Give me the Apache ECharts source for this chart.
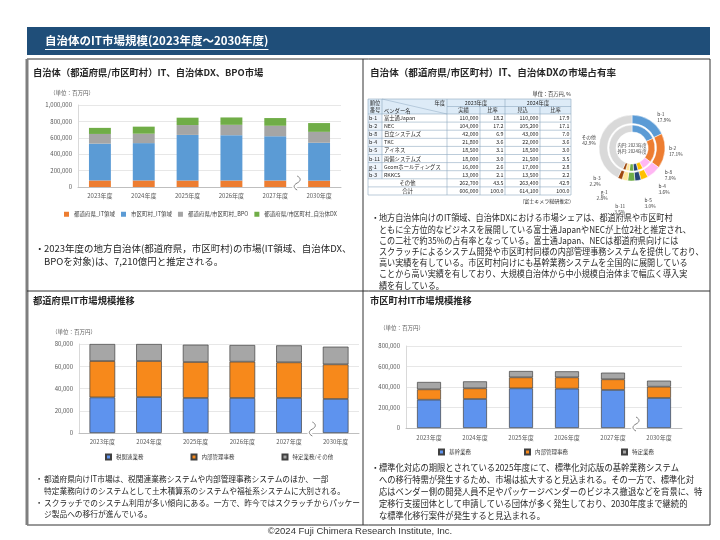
<!DOCTYPE html>
<html>
<head>
<meta charset="utf-8">
<script src="https://cdn.jsdelivr.net/npm/echarts@6/dist/echarts.min.js"></script>
<style>
html, body { margin: 0; padding: 0; background: #fff; }
#main { width: 720px; height: 540px; }
</style>
</head>
<body>
<div id="main"></div>
<script>
var years = ['2023年度', '2024年度', '2025年度', '2026年度', '2027年度', '2030年度'];

// 自治体（都道府県/市区町村）IT、自治体DX、BPO市場（百万円）
var prefIT = [80000, 80000, 79400, 79100, 78800, 77600];
var muniIT = [449000, 455000, 556000, 553000, 540000, 462000];
var bpo = [118000, 115000, 120000, 126000, 128000, 133000];
var dx = [74000, 86000, 90000, 90000, 94000, 107000];

// 都道府県IT市場
var prefTax = [32000, 32300, 31500, 31500, 31500, 30600];
var prefInternal = [32700, 32400, 32300, 32600, 32000, 31100];
var prefOther = [15300, 15300, 15600, 15000, 15300, 15900];

// 市区町村IT市場
var muniCore = [276000, 283000, 387000, 384000, 371000, 293000];
var muniInternal = [101000, 104000, 107000, 110000, 104000, 110000];
var muniSpecific = [72000, 68000, 62000, 59000, 65000, 59000];

// ベンダーシェア
var vendorCodes = ['b-1', 'b-2', 'b-8', 'b-4', 'b-5', 'b-11', 'g-1', 'b-3'];
var vendorNames = ['富士通Japan', 'NEC', '日立システムズ', 'TKC', 'アイネス', '両備システムズ', 'Gcomホールディングス', 'RKKCS'];
var sales2023 = [110000, 104000, 42000, 21800, 18500, 18000, 16000, 13000];
var share2023 = [18.2, 17.2, 6.9, 3.6, 3.1, 3.0, 2.6, 2.1];
var sales2024 = [110000, 105200, 43000, 22000, 18500, 21500, 17000, 13500];
var share2024 = [17.9, 17.1, 7.0, 3.6, 3.0, 3.5, 2.8, 2.2];
var otherSales = [262700, 263400];
var otherShare = [43.5, 42.9];
var totalSales = [606000, 614100];

var FONT = '"Noto Sans CJK JP", "Noto Sans", sans-serif';
var pieColors = ['#5B9BD5', '#ED7D31', '#FFB7F3', '#FFC000', '#264478', '#70AD47', '#FFE699', '#9E480E', '#D9D9D9'];
var pieCX = 632, pieCY = 148;

var g = [];
function txt(x, y, s, size, opt) {
    opt = opt || {};
    g.push({
        type: 'text', x: x, y: y, silent: true, z: 10,
        scaleX: opt.sx || 1, scaleY: 1,
        style: {
            text: s, fill: opt.fill || '#262626', fontSize: size, fontFamily: FONT,
            fontWeight: opt.weight || 'normal', textAlign: opt.align || 'left',
            textVerticalAlign: opt.valign || 'middle', lineHeight: opt.lh
        }
    });
}
function line(x1, y1, x2, y2, color, w) {
    g.push({ type: 'line', silent: true, z: 5, shape: { x1: x1, y1: y1, x2: x2, y2: y2 }, style: { stroke: color, lineWidth: w } });
}
function rect(x, y, w, h, fill) {
    g.push({ type: 'rect', silent: true, z: 1, shape: { x: x, y: y, width: w, height: h }, style: { fill: fill } });
}
function measure(s, font) {
    var c = document.createElement('canvas').getContext('2d');
    c.font = font;
    return c.measureText(s).width;
}
function fmt(v) { return v.toLocaleString('en-US'); }

// title bar
rect(27, 27, 683, 28, '#1F4E79');
var title = '自治体のIT市場規模(2023年度～2030年度)';
txt(45, 41, title, 11.5, { fill: '#fff', weight: 'bold' });
line(45, 49.5, 45 + measure(title, 'bold 11.5px ' + FONT), 49.5, '#fff', 1);

// frame
g.push({ type: 'rect', silent: true, z: 5, shape: { x: 27, y: 59, width: 683, height: 466 }, style: { fill: 'none', stroke: '#333', lineWidth: 1 } });
line(27, 59, 27, 525, '#7F7F7F', 3);
line(363, 59, 363, 525, '#333', 1);
line(27, 291, 710, 291, '#333', 1);

// panel headers
txt(33, 72, '自治体（都道府県/市区町村）IT、自治体DX、BPO市場', 9.3, { weight: 'bold' });
txt(370, 72, '自治体（都道府県/市区町村）IT、自治体DXの市場占有率', 9.6, { weight: 'bold' });
txt(33, 300, '都道府県IT市場規模推移', 9.3, { weight: 'bold' });
txt(370, 300, '市区町村IT市場規模推移', 9.3, { weight: 'bold' });

// units
txt(50, 93, '（単位：百万円）', 5.5, { fill: '#595959' });
txt(52, 332, '（単位：百万円）', 5.5, { fill: '#595959' });
txt(380, 328, '（単位：百万円）', 5.5, { fill: '#595959' });

// paragraphs
txt(35, 248, '・', 9.5);
txt(44, 241.5, '2023年度の地方自治体(都道府県，市区町村)の市場(IT領域、自治体DX、\nBPOを対象)は、7,210億円と推定される。', 9.5, { valign: 'top', lh: 13 });

txt(371, 218, '・', 8.7);
txt(379, 212.4, [
    '地方自治体向けのIT領域、自治体DXにおける市場シェアは、都道府県や市区町村',
    'ともに全方位的なビジネスを展開している富士通JapanやNECが上位2社と推定され、',
    'この二社で約35%の占有率となっている。富士通Japan、NECは都道府県向けには',
    'スクラッチによるシステム開発や市区町村同様の内部管理事務システムを提供しており、',
    '高い実績を有している。市区町村向けにも基幹業務システムを全国的に展開している',
    'ことから高い実績を有しており、大規模自治体から中小規模自治体まで幅広く導入実',
    '績を有している。'
].join('\n'), 8.7, { valign: 'top', lh: 11.2, sx: 0.935 });

txt(35, 479, '・', 8.3);
txt(44, 473, '都道府県向けIT市場は、税関連業務システムや内部管理事務システムのほか、一部\n特定業務向けのシステムとして土木積算系のシステムや福祉系システムに大別される。', 8.3, { valign: 'top', lh: 11.8, sx: 0.93 });
txt(35, 502.6, '・', 8.3);
txt(44, 496.6, 'スクラッチでのシステム利用が多い傾向にある。一方で、昨今ではスクラッチからパッケー\nジ製品への移行が進んでいる。', 8.3, { valign: 'top', lh: 11.8, sx: 0.93 });

txt(371, 468, '・', 8.7);
txt(379, 462, [
    '標準化対応の期限とされている2025年度にて、標準化対応版の基幹業務システム',
    'への移行特需が発生するため、市場は拡大すると見込まれる。その一方で、標準化対',
    '応はベンダー側の開発人員不足やパッケージベンダーのビジネス撤退などを背景に、特',
    '定移行支援団体として申請している団体が多く発生しており、2030年度まで継続的',
    'な標準化移行案件が発生すると見込まれる。'
].join('\n'), 8.7, { valign: 'top', lh: 12, sx: 0.955 });

// footer
g.push({ type: 'text', x: 360, y: 531, silent: true, style: { text: '©2024 Fuji Chimera Research Institute, Inc.', fill: '#333', fontSize: 9.5, fontFamily: '"Liberation Sans", sans-serif', textAlign: 'center', textVerticalAlign: 'middle' } });

// share table
var colX = [368, 382, 447, 480, 505, 540, 571];
var tTop = 99, hMid = 106.5, hBot = 114, rowH = 8.1;
var nRows = vendorNames.length + 2;
var tBot = hBot + rowH * nRows;
var bc = '#8EA9C1';
rect(colX[0], tTop, colX[6] - colX[0], hBot - tTop, '#DDEBF7');
rect(colX[0], hBot, colX[1] - colX[0], rowH * vendorNames.length, '#EEF4FB');
line(colX[0], tTop, colX[6], tTop, bc, 0.6);
line(colX[2], hMid, colX[6], hMid, bc, 0.6);
for (var r = 0; r <= nRows; r++) line(colX[0], hBot + rowH * r, colX[6], hBot + rowH * r, bc, 0.6);
[0, 2, 4, 6].forEach(function (i) { line(colX[i], tTop, colX[i], tBot, bc, 0.6); });
line(colX[1], tTop, colX[1], hBot + rowH * vendorNames.length, bc, 0.6);
[3, 5].forEach(function (i) { line(colX[i], hMid, colX[i], tBot, bc, 0.6); });
line(colX[1], tTop, colX[2], hBot, bc, 0.5);
var ts = 5.3;
txt(375, 102.8, '順位', ts, { align: 'center' });
txt(375, 110.3, '番号', ts, { align: 'center' });
txt(445, 102.5, '年度', ts, { align: 'right' });
txt(384, 110.5, 'ベンダー名', ts);
txt((colX[2] + colX[4]) / 2, 102.8, '2023年度', ts, { align: 'center' });
txt((colX[4] + colX[6]) / 2, 102.8, '2024年度', ts, { align: 'center' });
txt((colX[2] + colX[3]) / 2, 110.3, '実績', ts, { align: 'center' });
txt((colX[3] + colX[4]) / 2, 110.3, '比率', ts, { align: 'center' });
txt((colX[4] + colX[5]) / 2, 110.3, '見込', ts, { align: 'center' });
txt((colX[5] + colX[6]) / 2, 110.3, '比率', ts, { align: 'center' });
function numRow(r, a, b, c, d) {
    var y = hBot + rowH * (r + 0.5);
    txt(colX[3] - 1.5, y, fmt(a), ts, { align: 'right' });
    txt(colX[4] - 1.5, y, b.toFixed(1), ts, { align: 'right' });
    txt(colX[5] - 1.5, y, fmt(c), ts, { align: 'right' });
    txt(colX[6] - 1.5, y, d.toFixed(1), ts, { align: 'right' });
}
vendorNames.forEach(function (n, i) {
    var y = hBot + rowH * (i + 0.5);
    txt(369, y, vendorCodes[i], ts);
    txt(384, y, n, ts);
    numRow(i, sales2023[i], share2023[i], sales2024[i], share2024[i]);
});
var ro = vendorNames.length;
txt((colX[0] + colX[2]) / 2, hBot + rowH * (ro + 0.5), 'その他', ts, { align: 'center' });
numRow(ro, otherSales[0], otherShare[0], otherSales[1], otherShare[1]);
txt((colX[0] + colX[2]) / 2, hBot + rowH * (ro + 1.5), '合計', ts, { align: 'center' });
numRow(ro + 1, totalSales[0], 100, totalSales[1], 100);
txt(571, 94, '単位：百万円, %', 5.2, { align: 'right' });
txt(571, 201, '(富士キメラ総研推定)', 5, { align: 'right' });

// donut center note
txt(pieCX, pieCY, '内円: 2023年度\n外円: 2024年度', 4.3, { align: 'center', lh: 6, fill: '#404040' });

var pieNames = vendorCodes.concat(['その他']);
function pieData(shares, other) {
    return shares.concat([other]).map(function (v, i) {
        return { name: pieNames[i], value: v, itemStyle: { color: pieColors[i] } };
    });
}

var axisLabelStyle = { fontSize: 6, color: '#595959', fontFamily: FONT };
function catAxis(gi, margin) {
    return {
        type: 'category', gridIndex: gi, data: years,
        axisLine: { lineStyle: { color: '#BFBFBF' } }, axisTick: { show: false },
        axisLabel: Object.assign({ margin: margin }, axisLabelStyle)
    };
}
function valAxis(gi, max, interval) {
    return {
        type: 'value', gridIndex: gi, min: 0, max: max, interval: interval,
        axisLine: { show: true, lineStyle: { color: '#D9D9D9' } }, axisTick: { show: false },
        splitLine: { lineStyle: { color: '#E7E7E7' } },
        axisLabel: Object.assign({ margin: 6, formatter: function (v) { return fmt(v); } }, axisLabelStyle)
    };
}
function bar(name, gi, stack, data, color, width, border) {
    return {
        type: 'bar', name: name, xAxisIndex: gi, yAxisIndex: gi, stack: stack, data: data,
        barWidth: width, silent: true,
        itemStyle: { color: color, borderColor: border ? '#404040' : color, borderWidth: border ? 0.7 : 0 }
    };
}
var legendText = { fontSize: 5.5, color: '#404040', fontFamily: FONT };

var option = {
    animation: false,
    backgroundColor: '#fff',
    grid: [
        { left: 78, top: 105, width: 263, height: 82 },
        { left: 79, top: 344, width: 280, height: 89 },
        { left: 406, top: 346, width: 276, height: 82 }
    ],
    xAxis: [catAxis(0, 6), catAxis(1, 6), catAxis(2, 7)],
    yAxis: [valAxis(0, 1000000, 200000), valAxis(1, 80000, 20000), valAxis(2, 800000, 200000)],
    legend: [
        {
            left: 64, top: 211.5, padding: 0, itemWidth: 5, itemHeight: 5, itemGap: 6, icon: 'rect',
            textStyle: legendText,
            data: ['都道府県_IT領域', '市区町村_IT領域', '都道府県/市区町村_BPO', '都道府県/市区町村_自治体DX']
        },
        {
            left: 105, top: 453.5, padding: 0, itemWidth: 5, itemHeight: 5, itemGap: 47, icon: 'rect',
            textStyle: legendText, data: ['税関連業務', '内部管理事務', '特定業務/その他']
        },
        {
            left: 438, top: 448.5, padding: 0, itemWidth: 5, itemHeight: 5, itemGap: 53, icon: 'rect',
            textStyle: legendText, data: ['基幹業務', '内部管理事務', '特定業務']
        }
    ],
    series: [
        bar('都道府県_IT領域', 0, 's1', prefIT, '#ED7D31', '50%'),
        bar('市区町村_IT領域', 0, 's1', muniIT, '#5B9BD5', '50%'),
        bar('都道府県/市区町村_BPO', 0, 's1', bpo, '#A5A5A5', '50%'),
        bar('都道府県/市区町村_自治体DX', 0, 's1', dx, '#70AD47', '50%'),
        bar('税関連業務', 1, 's3', prefTax, '#5E93EE', '55%', true),
        bar('内部管理事務', 1, 's3', prefInternal, '#F7891B', '55%', true),
        bar('特定業務/その他', 1, 's3', prefOther, '#A6A6A6', '55%', true),
        bar('基幹業務', 2, 's4', muniCore, '#5E93EE', '52%', true),
        bar('内部管理事務', 2, 's4', muniInternal, '#F7891B', '52%', true),
        bar('特定業務', 2, 's4', muniSpecific, '#A6A6A6', '52%', true),
        {
            type: 'pie', name: '2023年度', center: [pieCX, pieCY], radius: [16, 23],
            startAngle: 90, clockwise: true, silent: true,
            label: { show: false }, labelLine: { show: false },
            itemStyle: { borderColor: '#fff', borderWidth: 0.5 },
            data: pieData(share2023, otherShare[0])
        },
        {
            type: 'pie', name: '2024年度', center: [pieCX, pieCY], radius: [24.5, 33],
            startAngle: 90, clockwise: true, silent: true,
            itemStyle: { borderColor: '#fff', borderWidth: 0.5 },
            label: {
                show: true, position: 'outside', fontSize: 4.8, lineHeight: 6, color: '#404040', fontFamily: FONT,
                formatter: function (p) { return p.name + '\n' + p.value.toFixed(1) + '%'; }
            },
            labelLine: { show: false, length: 3, length2: 1 },
            data: pieData(share2024, otherShare[1])
        }
    ],
    graphic: g
};

var myChart = echarts.init(document.getElementById('main'));
myChart.setOption(option);

// axis break marks between 2027 and 2030
[0, 1, 2].forEach(function (gi) {
    var a = myChart.convertToPixel({ gridIndex: gi }, [4, 0]);
    var b = myChart.convertToPixel({ gridIndex: gi }, [5, 0]);
    var x = (a[0] + b[0]) / 2, y = a[1] - 3;
    var segs = [
        { x1: x, y1: y - 8, cpx1: x + 4, cpy1: y - 6, cpx2: x + 4, cpy2: y - 3, x2: x, y2: y - 1 },
        { x1: x, y1: y - 1, cpx1: x - 4, cpy1: y + 1, cpx2: x - 4, cpy2: y + 4, x2: x, y2: y + 6 }
    ];
    segs.forEach(function (s) {
        g.push({ type: 'bezierCurve', silent: true, z: 20, shape: s, style: { fill: 'none', stroke: '#fff', lineWidth: 4 } });
        g.push({ type: 'bezierCurve', silent: true, z: 21, shape: s, style: { fill: 'none', stroke: '#7F7F7F', lineWidth: 1 } });
    });
});
myChart.setOption({ graphic: g });
</script>
</body>
</html>
